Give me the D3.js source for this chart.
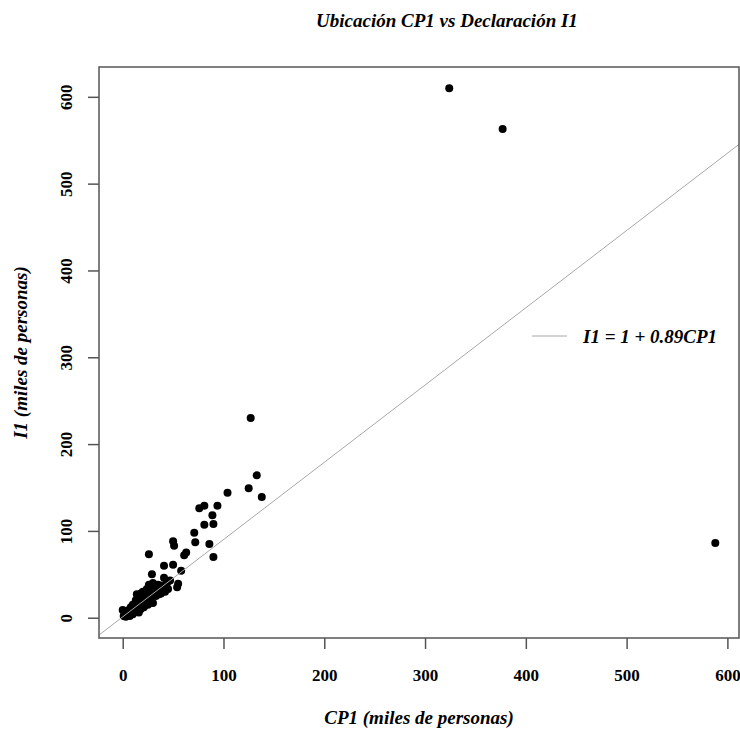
<!DOCTYPE html>
<html>
<head>
<meta charset="utf-8">
<script src="https://cdn.jsdelivr.net/npm/d3@7"></script>
<style>
  body { margin: 0; background: #fff; }
  svg { display: block; }
  text { font-family: "Liberation Serif", "Times New Roman", serif; fill: #000; }
</style>
</head>
<body>
<svg id="chart" width="740" height="730"></svg>
<script>
// CP1 location vs I1 declaration (thousands of people)
const cp1 = [
  0, 1, 3, 5, 4, 7, 8, 10, 9, 12, 11, 14, 15, 13, 16, 18, 17, 19, 20, 21,
  22, 23, 24, 25, 26, 27, 28, 29, 30, 31, 32, 33, 35, 36, 38, 40, 42, 44, 45, 47,
  13, 15, 18, 20, 22, 24, 26, 10, 8, 6, 2, 16, 30, 34, 28, 36, 39, 14,
  26, 29, 41, 41, 50, 58, 54, 55, 50, 51, 61, 63, 71, 72, 76, 81, 81, 90,
  86, 89, 94, 90, 104, 125, 127, 133, 138, 324, 377, 588
];
const i1 = [
  9, 2, 1, 3, 6, 2, 5, 4, 8, 7, 11, 9, 13, 16, 6, 10, 18, 14, 21, 12,
  17, 24, 19, 15, 28, 22, 33, 26, 17, 36, 30, 25, 38, 32, 28, 35, 30, 40, 33, 43,
  20, 25, 28, 30, 26, 33, 38, 15, 12, 9, 5, 22, 40, 36, 18, 27, 37, 27,
  73, 50, 46, 60, 61, 54, 35, 39, 88, 83, 72, 75, 98, 87, 126, 129, 107, 108,
  85, 118, 129, 70, 144, 149, 230, 164, 139, 610, 563, 86
];

const xTicks = [0, 100, 200, 300, 400, 500, 600];
const yTicks = [0, 100, 200, 300, 400, 500, 600];

// Fitted line: I1 = a + b * CP1
const fitA = 1;
const fitB = 0.89;
const legendLabel = "I1 = 1 + 0.89CP1";

const chartTitle = "Ubicación CP1 vs Declaración I1";
const xTitle = "CP1 (miles de personas)";
const yTitle = "I1 (miles de personas)";

const W = 740, H = 730;
const margin = { top: 67, right: 1, bottom: 92, left: 99 };
const iw = W - margin.left - margin.right;
const ih = H - margin.top - margin.bottom;

// Axis ranges padded 4% beyond the data, R-style
const xExt = d3.extent(cp1), yExt = d3.extent(i1);
const xPad = (xExt[1] - xExt[0]) * 0.04, yPad = (yExt[1] - yExt[0]) * 0.04;

const x = d3.scaleLinear().domain([xExt[0] - xPad, xExt[1] + xPad]).range([0, iw]);
const y = d3.scaleLinear().domain([yExt[0] - yPad, yExt[1] + yPad]).range([ih, 0]);

const svg = d3.select("#chart");
const g = svg.append("g").attr("transform", `translate(${margin.left},${margin.top})`);

svg.append("defs").append("clipPath").attr("id", "plotclip")
  .append("rect").attr("width", iw).attr("height", ih);

// Title
svg.append("text")
  .attr("x", 447).attr("y", 27)
  .attr("text-anchor", "middle")
  .style("font-size", "19px").style("font-weight", "bold").style("font-style", "italic")
  .text(chartTitle);

// Points
g.append("g").selectAll("circle")
  .data(cp1.map((v, i) => [v, i1[i]]))
  .join("circle")
  .attr("cx", d => x(d[0])).attr("cy", d => y(d[1]))
  .attr("r", 4).attr("fill", "#000");

// Regression line, drawn over the points
const xd = x.domain();
g.append("line")
  .attr("clip-path", "url(#plotclip)")
  .attr("x1", x(xd[0])).attr("y1", y(fitA + fitB * xd[0]))
  .attr("x2", x(xd[1])).attr("y2", y(fitA + fitB * xd[1]))
  .attr("stroke", "#a8a8a8").attr("stroke-width", 1);

// Axes
const axisColor = "#555";
const xAxis = g.append("g").attr("transform", `translate(0,${ih})`)
  .call(d3.axisBottom(x).tickValues(xTicks).tickSize(11).tickPadding(20).tickFormat(d3.format("d")));
const yAxis = g.append("g")
  .call(d3.axisLeft(y).tickValues(yTicks).tickSize(11).tickPadding(22).tickFormat(d3.format("d")));

[xAxis, yAxis].forEach(a => {
  a.select(".domain").remove();
  a.selectAll(".tick line").attr("stroke", axisColor).attr("stroke-width", 1.5);
  a.selectAll(".tick text")
    .style("font-family", "'Liberation Serif', serif")
    .style("font-size", "17px").style("font-weight", "bold").attr("fill", "#000");
});
xAxis.selectAll(".tick text").attr("dy", "0.71em");
yAxis.selectAll(".tick text")
  .attr("text-anchor", "middle")
  .attr("x", null).attr("dy", null)
  .attr("transform", "translate(-33,0) rotate(-90)")
  .attr("y", 6);

// Plot box
g.append("rect")
  .attr("width", iw).attr("height", ih)
  .attr("fill", "none").attr("stroke", axisColor).attr("stroke-width", 1.5);

// Axis titles
svg.append("text")
  .attr("x", margin.left + iw / 2).attr("y", 724)
  .attr("text-anchor", "middle")
  .style("font-size", "19px").style("font-weight", "bold").style("font-style", "italic")
  .text(xTitle);

svg.append("text")
  .attr("transform", `translate(27,${margin.top + ih / 2}) rotate(-90)`)
  .attr("text-anchor", "middle")
  .style("font-size", "19px").style("font-weight", "bold").style("font-style", "italic")
  .text(yTitle);

// Legend
const legend = svg.append("g").attr("transform", "translate(532,336)");
legend.append("line").attr("x1", 0).attr("x2", 35).attr("y1", 0).attr("y2", 0)
  .attr("stroke", "#a8a8a8").attr("stroke-width", 1);
legend.append("text").attr("x", 51).attr("y", 7)
  .style("font-size", "19px").style("font-weight", "bold").style("font-style", "italic")
  .text(legendLabel);
</script>
</body>
</html>
